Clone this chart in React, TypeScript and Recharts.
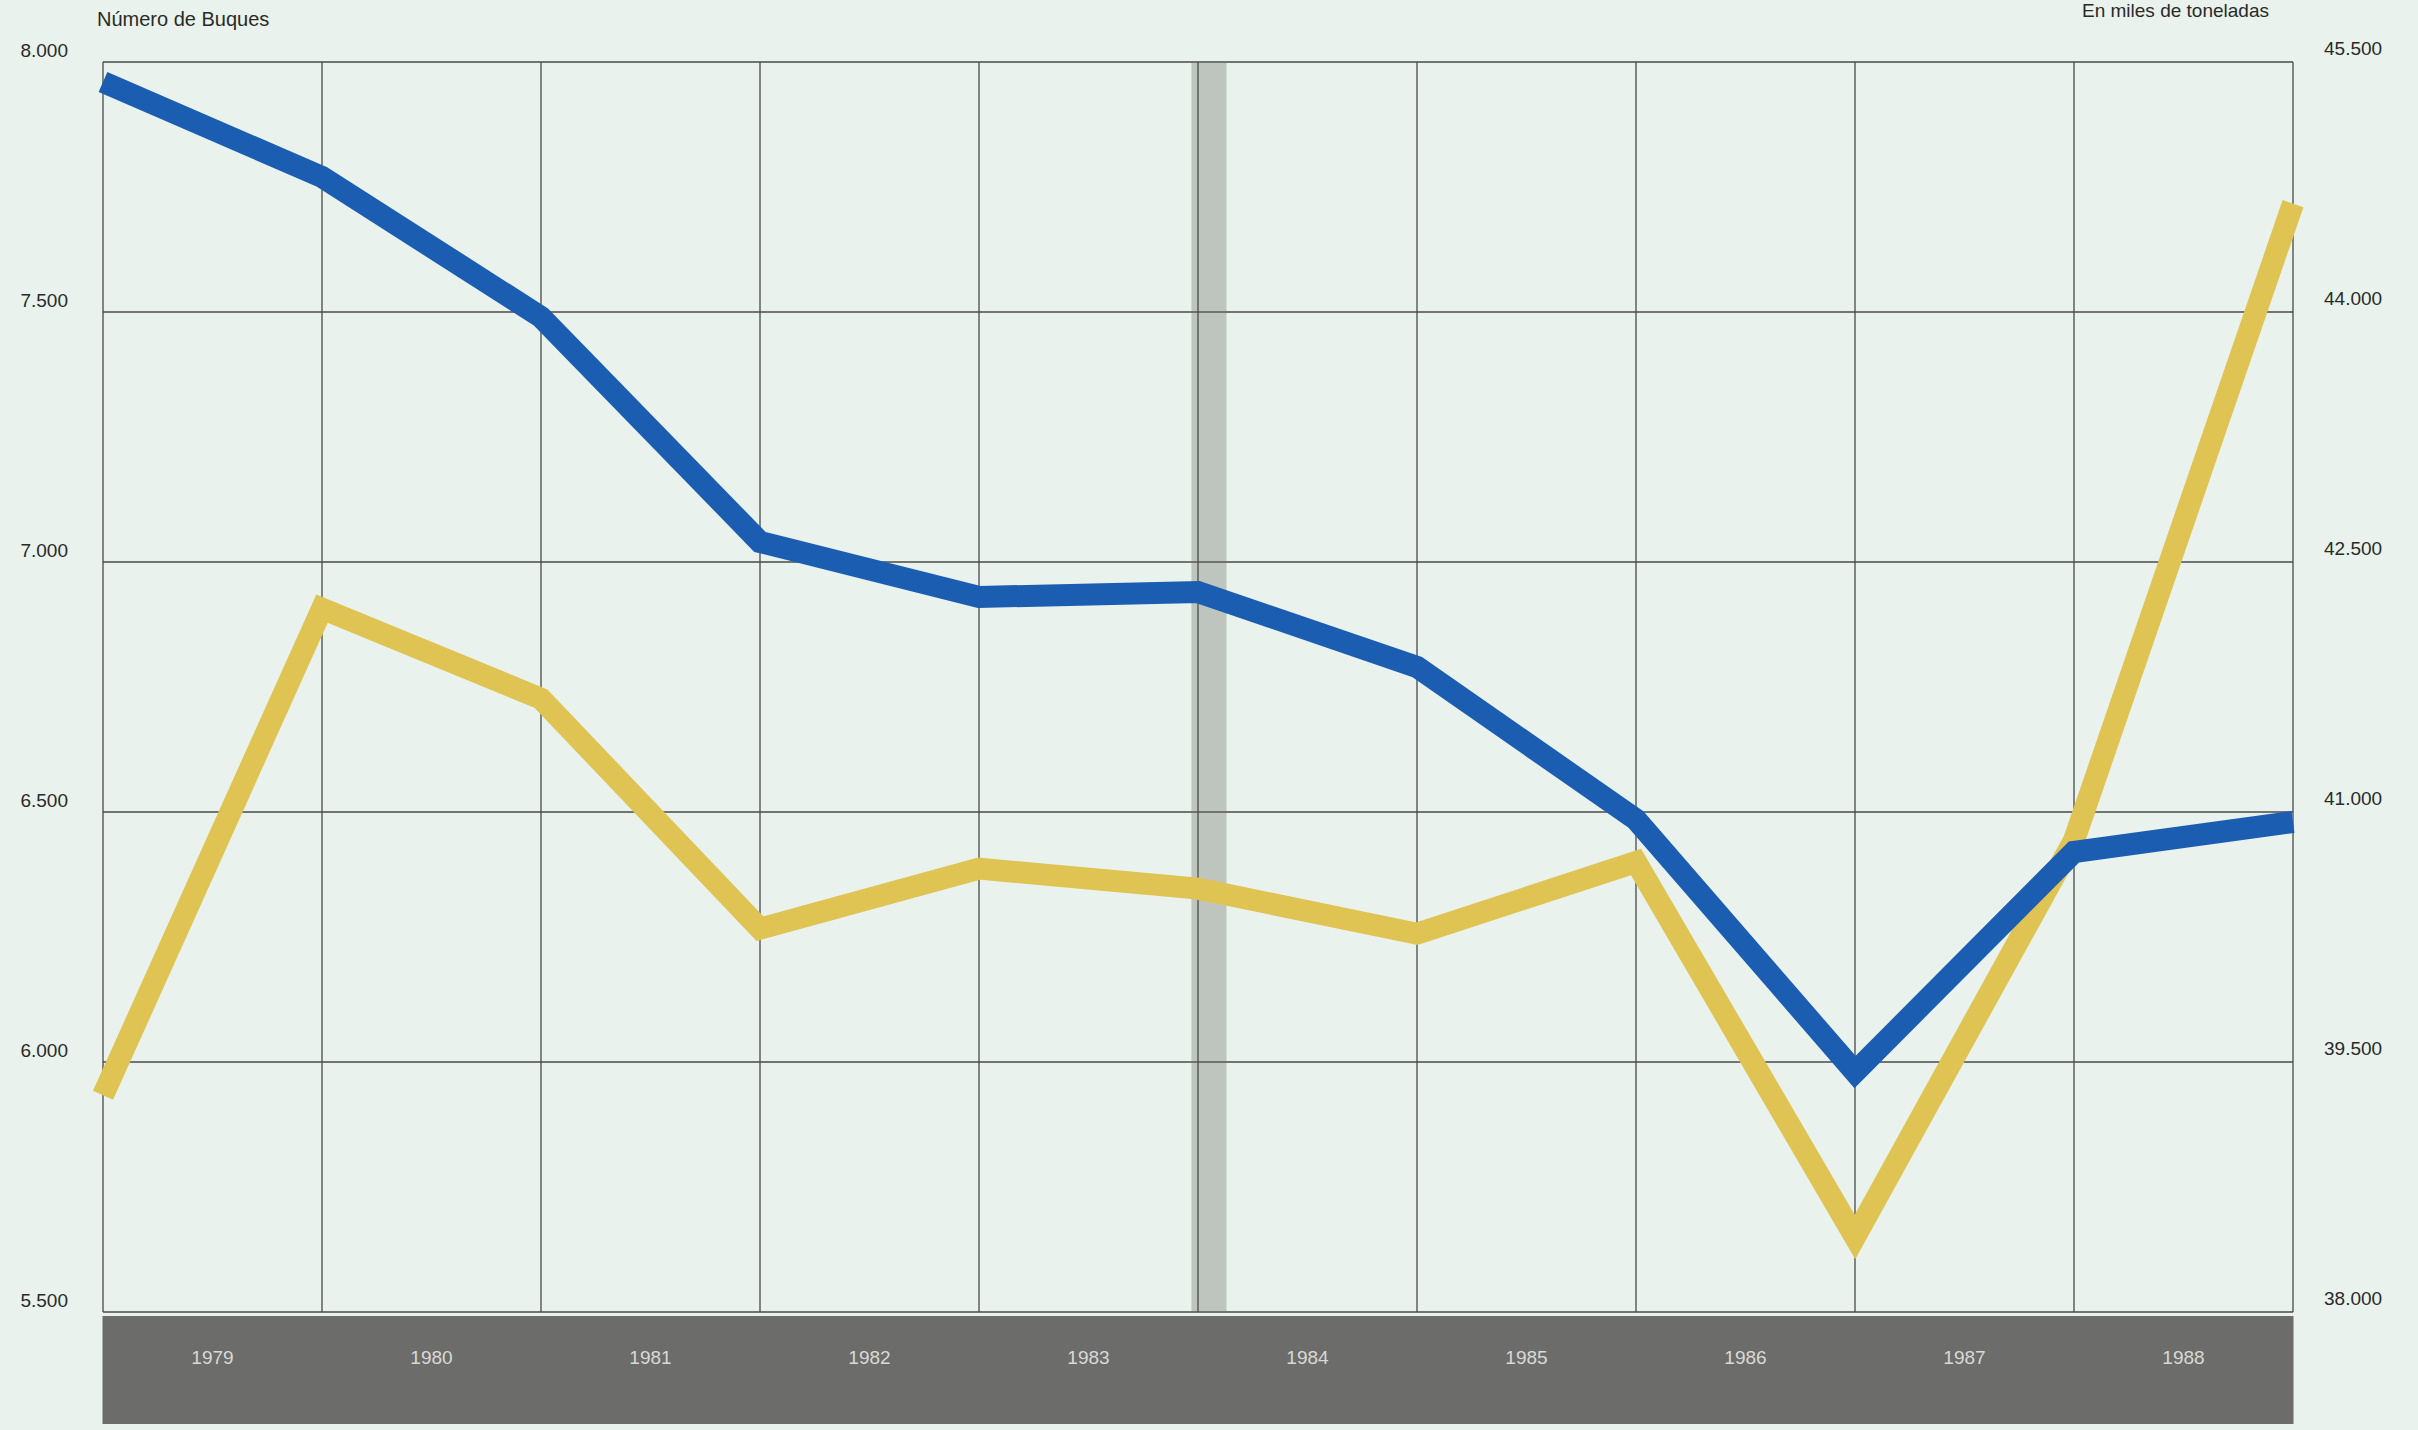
import { LineChart, Line, XAxis, YAxis, CartesianGrid, ReferenceLine, ReferenceArea } from "recharts";

// year bands shown in the grey strip, centred between boundaries
const years = ["1979", "1980", "1981", "1982", "1983", "1984", "1985", "1986", "1987", "1988"];
const yearTicks = [0.5, 1.5, 2.5, 3.5, 4.5, 5.5, 6.5, 7.5, 8.5, 9.5];
// values are read at the year boundaries (11 points)
const boundaries = [0, 1, 2, 3, 4, 5, 6, 7, 8, 9, 10];
const buques = [7960, 7770, 7490, 7040, 6930, 6940, 6790, 6485, 5980, 6420, 6480];
const toneladas = [39300, 42220, 41680, 40300, 40660, 40540, 40270, 40700, 38450, 40830, 44650];

const leftTicks = [5500, 6000, 6500, 7000, 7500, 8000];
const rightTicks = [38000, 39500, 41000, 42500, 44000, 45500];

const data = boundaries.map((x, i) => ({ x, buques: buques[i], toneladas: toneladas[i] }));

const W = 2418;
const H = 1430;
const PLOT_L = 103;
const PLOT_R = 2293;
const BAND_W = (PLOT_R - PLOT_L) / years.length;
const FONT = "'Liberation Sans', Arial, sans-serif";

const fmt = (v: number) => v.toLocaleString("de-DE");

function YearTick(props: any) {
  const { x, y, payload } = props;
  const label = years[Math.floor(payload.value)];
  return (
    <g>
      <rect x={x - BAND_W / 2 - 0.5} y={y + 4} width={BAND_W + 1} height={108} fill="#6c6c6a" />
      <text x={x} y={y + 52} textAnchor="middle" fill="#d9d9d6" fontSize={19} fontFamily={FONT}>
        {label}
      </text>
    </g>
  );
}

export default function App() {
  return (
    <div style={{ position: "fixed", left: 0, top: 0, width: W, height: H, background: "#e9f2ec", overflow: "hidden" }}>
      <div style={{ position: "absolute", left: 97, top: 8, fontSize: 20, fontFamily: FONT, color: "#2a2a2a" }}>
        Número de Buques
      </div>
      <div style={{ position: "absolute", left: 2082, top: 0, fontSize: 19, fontFamily: FONT, color: "#2a2a2a" }}>
        En miles de toneladas
      </div>
      <LineChart width={W} height={H} data={data} margin={{ top: 62, right: 0, bottom: 4, left: 0 }}>
        <CartesianGrid vertical={false} stroke="#4a4a4a" strokeWidth={1.3} />
        <XAxis
          dataKey="x"
          type="number"
          domain={[0, 10]}
          ticks={yearTicks}
          tick={<YearTick />}
          tickLine={false}
          axisLine={false}
          tickSize={0}
          tickMargin={0}
          height={114}
          interval={0}
        />
        <YAxis
          domain={[5500, 8000]}
          ticks={leftTicks}
          tickFormatter={fmt}
          width={PLOT_L}
          axisLine={false}
          tickLine={false}
          tickSize={0}
          tickMargin={35}
          tick={{ fontSize: 19, fill: "#2a2a2a", fontFamily: FONT, dy: -12 }}
        />
        <YAxis
          yAxisId="right"
          orientation="right"
          domain={[38000, 45500]}
          ticks={rightTicks}
          tickFormatter={fmt}
          width={W - PLOT_R}
          axisLine={false}
          tickLine={false}
          tickSize={0}
          tickMargin={31}
          tick={{ fontSize: 19, fill: "#2a2a2a", fontFamily: FONT, dy: -14, textAnchor: "start" }}
        />
        {boundaries.map((b) => (
          <ReferenceLine key={b} x={b} stroke="#4a4a4a" strokeWidth={1.3} />
        ))}
        <Line
          dataKey="toneladas"
          yAxisId="right"
          stroke="#dfc453"
          strokeWidth={22}
          strokeLinejoin="miter"
          strokeLinecap="butt"
          dot={false}
          activeDot={false}
          isAnimationActive={false}
        />
        <Line
          dataKey="buques"
          stroke="#1b5db1"
          strokeWidth={22}
          strokeLinejoin="miter"
          strokeLinecap="butt"
          dot={false}
          activeDot={false}
          isAnimationActive={false}
        />
        <ReferenceArea x1={4.97} x2={5.13} fill="#70736b" fillOpacity={0.35} stroke="none" />
      </LineChart>
    </div>
  );
}
